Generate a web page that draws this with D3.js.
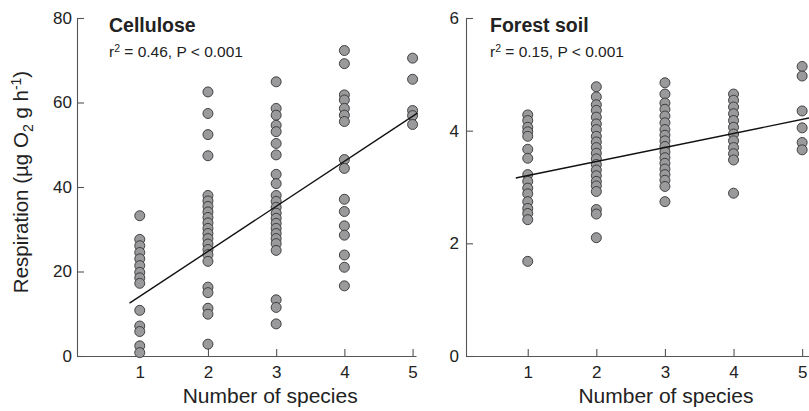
<!DOCTYPE html>
<html>
<head>
<meta charset="utf-8">
<script src="https://cdn.jsdelivr.net/npm/d3@7"></script>
<style>
  html, body { margin: 0; padding: 0; background: #fff; }
  svg { display: block; font-family: "Liberation Sans", Arial, Helvetica, sans-serif; }
</style>
</head>
<body>
<svg id="chart" width="809" height="411"></svg>
<script>
// ---------- data ----------
const speciesCounts = [1, 2, 3, 4, 5];

// Cellulose respiration (µg O2 g h-1), one array per species count
const cellulose1 = [33.2, 27.6, 26.1, 24.5, 23.0, 21.4, 19.8, 18.5, 17.2, 10.8, 7.1, 5.8, 2.4, 0.8];
const cellulose2 = [62.5, 57.4, 52.4, 47.4, 38.0, 36.7, 35.4, 34.1, 32.8, 31.5, 30.2, 29.0, 27.8, 26.5, 25.2, 24.0, 22.4, 16.3, 15.0, 11.3, 9.9, 2.8];
const cellulose3 = [64.9, 58.6, 57.0, 54.6, 53.1, 50.3, 47.6, 43.0, 40.8, 38.0, 36.6, 35.2, 33.8, 32.6, 31.4, 30.2, 29.0, 27.8, 26.6, 25.0, 13.3, 11.5, 7.6];
const cellulose4 = [72.3, 69.2, 61.8, 60.6, 58.6, 57.0, 55.5, 46.5, 44.4, 37.1, 34.2, 30.8, 28.6, 23.9, 21.0, 16.6];
const cellulose5 = [70.5, 65.5, 58.1, 56.9, 54.8];

// Forest soil respiration
const forest1 = [4.28, 4.18, 4.06, 3.98, 3.90, 3.67, 3.51, 3.22, 3.10, 2.98, 2.88, 2.74, 2.62, 2.53, 2.42, 1.68];
const forest2 = [4.78, 4.60, 4.46, 4.36, 4.24, 4.12, 4.02, 3.90, 3.80, 3.70, 3.60, 3.50, 3.40, 3.30, 3.20, 3.10, 3.02, 2.92, 2.60, 2.52, 2.10];
const forest3 = [4.85, 4.65, 4.49, 4.38, 4.26, 4.14, 4.02, 3.92, 3.82, 3.72, 3.62, 3.52, 3.42, 3.32, 3.22, 3.12, 3.01, 2.74];
const forest4 = [4.65, 4.54, 4.42, 4.30, 4.18, 4.06, 3.94, 3.82, 3.70, 3.59, 3.48, 2.89];
const forest5 = [5.14, 4.97, 4.35, 4.05, 3.79, 3.66];

// regression fits: [intercept, slope] and x-extent of drawn line
const celluloseFit = [3.44, 10.66];
const celluloseFitRange = [0.85, 5.07];
const forestFit = [2.955, 0.249];
const forestFitRange = [0.825, 5.1];

const celluloseTicks = [0, 20, 40, 60, 80];
const forestTicks = [0, 2, 4, 6];

const panelTitles = ["Cellulose", "Forest soil"];
const panelStats = ["0.46", "0.15"];
const xTitle = "Number of species";

// ---------- drawing ----------
const svg = d3.select("#chart");

const panels = [
  { series: [cellulose1, cellulose2, cellulose3, cellulose4, cellulose5], fit: celluloseFit, fitRange: celluloseFitRange,
    ticks: celluloseTicks, yDomain: [0, 80], xDomain: [0.08, 5.05], xRange: [77, 416], title: panelTitles[0], r2: panelStats[0], labelPad: 5 },
  { series: [forest1, forest2, forest3, forest4, forest5], fit: forestFit, fitRange: forestFitRange,
    ticks: forestTicks, yDomain: [0, 6], xDomain: [0.1, 5.1], xRange: [466, 809], title: panelTitles[1], r2: panelStats[1], labelPad: 7 }
];

const axisColor = "#555";

panels.forEach((p, pi) => {
  const x = d3.scaleLinear().domain(p.xDomain).range(p.xRange);
  const y = d3.scaleLinear().domain(p.yDomain).range([356, 18]);
  const g = svg.append("g");

  // y axis
  const ya = g.append("g").attr("transform", `translate(${p.xRange[0]},0)`)
    .call(d3.axisLeft(y).tickValues(p.ticks).tickSizeInner(-7).tickSizeOuter(0).tickPadding(p.labelPad).tickFormat(d3.format("d")));
  // x axis
  const xa = g.append("g").attr("transform", `translate(0,356)`)
    .call(d3.axisBottom(x).tickValues(speciesCounts).tickSizeInner(-7).tickSizeOuter(0).tickPadding(10).tickFormat(d3.format("d")));

  [ya, xa].forEach(a => {
    a.select(".domain").attr("stroke", axisColor).attr("stroke-width", 1.1);
    a.selectAll(".tick line").attr("stroke", axisColor).attr("stroke-width", 1.1);
    a.selectAll(".tick text").attr("fill", "#222").style("font-size", "17px");
  });

  // points
  p.series.forEach((vals, i) => {
    g.append("g").selectAll("circle").data(vals).join("circle")
      .attr("cx", x(speciesCounts[i]))
      .attr("cy", d => y(d))
      .attr("r", 5)
      .attr("fill", "#9a9a9c")
      .attr("stroke", "#333")
      .attr("stroke-width", 0.9);
  });

  // regression line
  const line = d3.line().x(d => x(d)).y(d => y(p.fit[0] + p.fit[1] * d));
  g.append("path").datum(p.fitRange).attr("d", line)
    .attr("fill", "none").attr("stroke", "#111").attr("stroke-width", 1.4);

  // titles
  const tx = p.xRange[0] + (pi === 0 ? 32 : 24);
  g.append("text").attr("x", tx).attr("y", 32).text(p.title)
    .style("font-size", "19.5px").style("font-weight", "bold").attr("fill", "#222");
  const st = g.append("text").attr("x", tx).attr("y", 57).style("font-size", "15.5px").attr("fill", "#222");
  st.append("tspan").text("r");
  st.append("tspan").text("2").style("font-size", "10.5px").attr("dy", -5);
  st.append("tspan").text(` = ${p.r2}, P < 0.001`).attr("dy", 5);

  // x axis title
  g.append("text").attr("x", (x(1) + x(5)) / 2 - (pi === 0 ? 6 : -1)).attr("y", 403).attr("text-anchor", "middle")
    .style("font-size", "21px").attr("fill", "#222").text(xTitle);
});

// y axis title
const yl = svg.append("text").attr("transform", "translate(28,182) rotate(-90)")
  .attr("text-anchor", "middle").style("font-size", "20.5px").attr("fill", "#222");
yl.append("tspan").text("Respiration (µg O");
yl.append("tspan").text("2").style("font-size", "14px").attr("dy", 5);
yl.append("tspan").text(" g h").attr("dy", -5);
yl.append("tspan").text("-1").style("font-size", "14px").attr("dy", -7);
yl.append("tspan").text(")").attr("dy", 7);
</script>
</body>
</html>
